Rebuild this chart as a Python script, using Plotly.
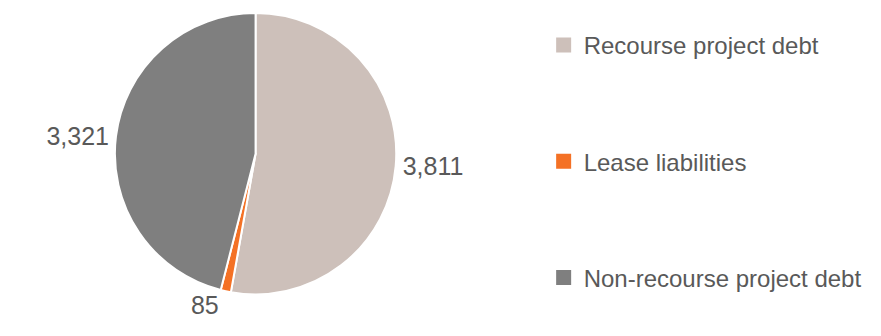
import plotly.graph_objects as go

labels = ["Recourse project debt", "Lease liabilities", "Non-recourse project debt"]
values = [3811, 85, 3321]
text_labels = ["3,811", "85", "3,321"]
colors = ["#CDC0BA", "#F47125", "#7F7F7F"]

FONT = "Liberation Sans, Arial, sans-serif"
TEXT_COLOR = "#595959"

fig = go.Figure()

fig.add_trace(
    go.Pie(
        labels=labels,
        values=values,
        text=text_labels,
        texttemplate="%{text}",
        textposition="outside",
        textfont=dict(family=FONT, size=25, color=TEXT_COLOR),
        marker=dict(colors=colors, line=dict(color="white", width=2)),
        sort=False,
        direction="clockwise",
        rotation=0,
        showlegend=False,
        hoverinfo="label+value",
        domain=dict(x=[0.11, 0.452], y=[0.15, 1.0]),
    )
)

# legend swatches, one group per slice so they can be spaced apart
for name, color in zip(labels, colors):
    fig.add_trace(
        go.Scatter(
            x=[None],
            y=[None],
            mode="markers",
            name=name,
            legendgroup=name,
            marker=dict(symbol="square", size=15, color=color),
        )
    )

fig.update_layout(
    width=881,
    height=336,
    paper_bgcolor="white",
    plot_bgcolor="white",
    margin=dict(l=0, r=0, t=0, b=0),
    xaxis=dict(visible=False),
    yaxis=dict(visible=False),
    legend=dict(
        x=0.608,
        y=0.97,
        xanchor="left",
        yanchor="top",
        font=dict(family=FONT, size=24, color=TEXT_COLOR),
        tracegroupgap=82,
        itemwidth=30,
        bgcolor="rgba(0,0,0,0)",
    ),
)

fig.write_html("out.html")
